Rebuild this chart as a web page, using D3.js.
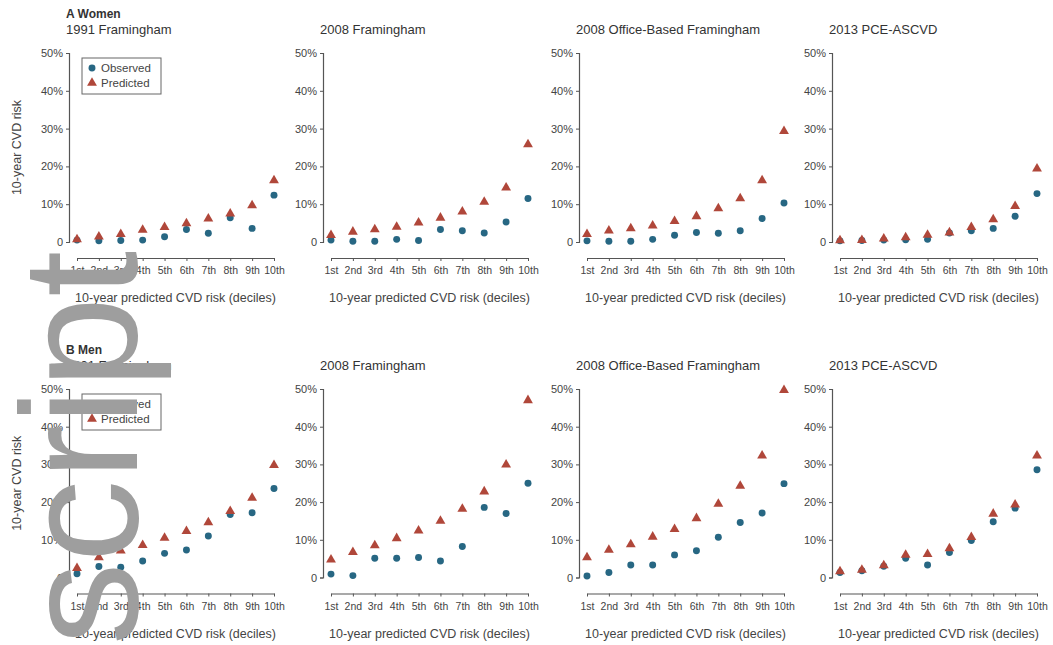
<!DOCTYPE html>
<html>
<head>
<meta charset="utf-8">
<script src="https://cdn.jsdelivr.net/npm/d3@7"></script>
<style>
  html, body { margin: 0; padding: 0; background: #fff; }
  svg { display: block; }
  text { font-family: "Liberation Sans", Arial, sans-serif; }
</style>
</head>
<body>
<div id="chart"></div>
<script>
// Decile labels and y-axis ticks
const deciles = ["1st", "2nd", "3rd", "4th", "5th", "6th", "7th", "8th", "9th", "10th"];
const yTickValues = [0, 10, 20, 30, 40, 50];
const yTickLabels = ["0", "10%", "20%", "30%", "40%", "50%"];
const modelTitles = ["1991 Framingham", "2008 Framingham", "2008 Office-Based Framingham", "2013 PCE-ASCVD"];
const groupLabels = ["A Women", "B Men"];
const seriesNames = ["Observed", "Predicted"];

// 10-year CVD risk (%) by decile of predicted risk — women
const womenObserved1991   = [0.5, 0.3, 0.4, 0.5, 1.4, 3.3, 2.3, 6.4, 3.6, 12.4];
const womenPredicted1991  = [0.7, 1.4, 2.1, 3.2, 3.9, 4.9, 6.2, 7.5, 9.7, 16.3];
const womenObserved2008   = [0.5, 0.2, 0.2, 0.7, 0.4, 3.3, 3.0, 2.4, 5.3, 11.5];
const womenPredicted2008  = [1.8, 2.7, 3.3, 4.0, 5.1, 6.4, 8.0, 10.6, 14.4, 25.8];
const womenObservedOffice = [0.3, 0.2, 0.2, 0.7, 1.8, 2.5, 2.3, 3.0, 6.2, 10.3];
const womenPredictedOffice= [2.1, 3.0, 3.6, 4.3, 5.5, 6.8, 8.9, 11.5, 16.3, 29.3];
const womenObservedPce    = [0.3, 0.4, 0.5, 0.6, 0.7, 2.4, 3.0, 3.6, 6.8, 12.8];
const womenPredictedPce   = [0.4, 0.5, 0.9, 1.2, 1.9, 2.5, 3.9, 6.0, 9.5, 19.4];

// 10-year CVD risk (%) by decile of predicted risk — men
const menObserved1991     = [1.0, 2.9, 2.7, 4.4, 6.4, 7.3, 11.0, 16.7, 17.2, 23.6];
const menPredicted1991    = [2.5, 5.3, 7.1, 8.6, 10.5, 12.3, 14.6, 17.6, 21.1, 29.8];
const menObserved2008     = [0.9, 0.5, 5.1, 5.1, 5.3, 4.4, 8.2, 18.6, 17.0, 25.0];
const menPredicted2008    = [4.7, 6.7, 8.5, 10.4, 12.4, 15.0, 18.2, 22.8, 29.9, 47.0];
const menObservedOffice   = [0.4, 1.3, 3.3, 3.3, 6.0, 7.1, 10.7, 14.6, 17.1, 24.9];
const menPredictedOffice  = [5.3, 7.3, 8.8, 10.8, 12.8, 15.7, 19.5, 24.3, 32.3, 49.7];
const menObservedPce      = [1.3, 1.8, 3.0, 5.1, 3.3, 6.6, 9.8, 14.8, 18.4, 28.6];
const menPredictedPce     = [1.6, 2.0, 3.2, 6.0, 6.2, 7.7, 10.7, 16.9, 19.3, 32.3];

const panels = [
  [[womenObserved1991, womenPredicted1991], [womenObserved2008, womenPredicted2008],
   [womenObservedOffice, womenPredictedOffice], [womenObservedPce, womenPredictedPce]],
  [[menObserved1991, menPredicted1991], [menObserved2008, menPredicted2008],
   [menObservedOffice, menPredictedOffice], [menObservedPce, menPredictedPce]]
];

const W = 1053, H = 645;
const colors = { Observed: "#276783", Predicted: "#b0473a" };
const axisColor = "#555";
const textColor = "#444";
const fontStack = "Liberation Sans, Arial, sans-serif";

const svg = d3.select("#chart").append("svg")
  .attr("width", W).attr("height", H);

// layout
const colX = [69, 323, 579, 832];          // y-axis position of each column
const rowTop = [53, 389];                  // y of 50%
const rowZero = [242, 577.5];              // y of 0

function drawMarker(g, type, x, y) {
  const sym = type === "Observed" ? d3.symbolCircle : d3.symbolTriangle;
  const size = type === "Observed" ? 38 : 42;
  g.append("path")
    .attr("d", d3.symbol().type(sym).size(size)())
    .attr("transform", `translate(${x},${y})`)
    .attr("fill", colors[type]);
}

panels.forEach((row, r) => {
  const y = d3.scaleLinear().domain([0, 50]).range([rowZero[r], rowTop[r]]);

  // group label
  svg.append("text")
    .attr("x", colX[0] - 3).attr("y", rowTop[r] - 35)
    .attr("font-size", 12).attr("font-weight", "bold").attr("fill", "#333")
    .text(groupLabels[r]);

  // y-axis title
  svg.append("text")
    .attr("transform", `translate(21,${(rowTop[r] + rowZero[r]) / 2}) rotate(-90)`)
    .attr("text-anchor", "middle").attr("font-size", 12.5).attr("fill", textColor)
    .text("10-year CVD risk");

  row.forEach((pair, c) => {
    const ax = colX[c];
    const x = d3.scalePoint().domain(deciles).range([ax + 8, ax + 205]);
    const g = svg.append("g");

    // panel title
    g.append("text")
      .attr("x", ax - 3).attr("y", rowTop[r] - 19)
      .attr("font-size", 13).attr("fill", "#333")
      .text(modelTitles[c]);

    // y axis
    const yAxis = d3.axisLeft(y).tickValues(yTickValues)
      .tickFormat((d, i) => yTickLabels[i]).tickSize(3).tickPadding(3);
    const ya = g.append("g").attr("transform", `translate(${ax},0)`).call(yAxis);
    ya.select(".domain").attr("stroke", axisColor).attr("stroke-width", 1.2);
    ya.selectAll(".tick line").attr("stroke", axisColor);
    ya.selectAll(".tick text").attr("font-size", 11).attr("fill", textColor)
      .attr("font-family", fontStack);

    // x axis, offset below the data
    const xAxisY = rowZero[r] + 16;
    const xAxis = d3.axisBottom(x).tickSize(3).tickPadding(6).tickSizeOuter(0);
    const xa = g.append("g").attr("transform", `translate(0,${xAxisY})`).call(xAxis);
    xa.select(".domain").attr("stroke", axisColor).attr("stroke-width", 1.2);
    xa.selectAll(".tick line").attr("stroke", axisColor);
    xa.selectAll(".tick text").attr("font-size", 10.5).attr("fill", textColor)
      .attr("font-family", fontStack);

    // x-axis title
    g.append("text")
      .attr("x", (x.range()[0] + x.range()[1]) / 2).attr("y", xAxisY + 44)
      .attr("text-anchor", "middle").attr("font-size", 12.5).attr("fill", textColor)
      .text("10-year predicted CVD risk (deciles)");

    // markers
    seriesNames.forEach((name, s) => {
      pair[s].forEach((v, i) => drawMarker(g, name, x(deciles[i]), y(v)));
    });

    // legend in the first column
    if (c === 0) {
      const lx = ax + 13, ly = rowTop[r] + 5;
      const lg = g.append("g");
      lg.append("rect").attr("x", lx).attr("y", ly).attr("width", 79).attr("height", 36)
        .attr("fill", "#fff").attr("stroke", "#666").attr("stroke-width", 1);
      seriesNames.forEach((name, s) => {
        const yy = ly + 10 + s * 15;
        drawMarker(lg, name, lx + 10, yy);
        lg.append("text").attr("x", lx + 19).attr("y", yy + 4)
          .attr("font-size", 11.5).attr("fill", textColor).text(name);
      });
    }
  });
});

// large vertical "script" lettering along the left edge
svg.append("text")
  .attr("transform", "translate(137,645) rotate(-90)")
  .attr("font-size", 165)
  .attr("font-family", fontStack)
  .attr("fill", "#9e9e9e")
  .text("script");
</script>
</body>
</html>
